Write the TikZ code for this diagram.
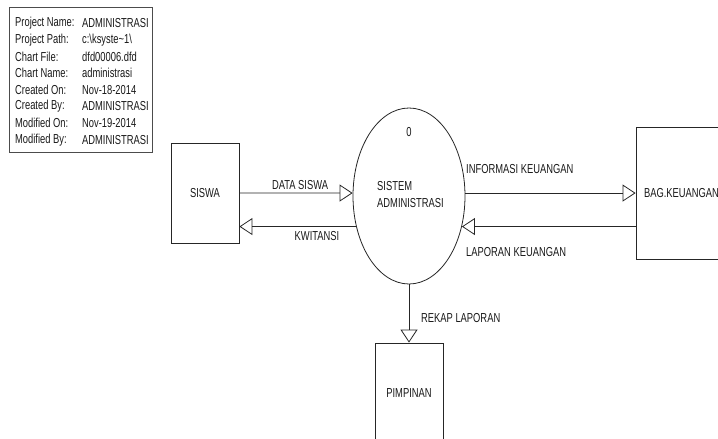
\documentclass[tikz,border=0pt]{standalone}
\usepackage{fontspec}
\setmainfont{Liberation Sans}[FakeStretch=0.72]
\usetikzlibrary{shapes.geometric,arrows.meta}
\begin{document}
\begin{tikzpicture}[x=1pt,y=-1pt,
  every node/.style={font=\fontsize{13}{15}\selectfont, text=black!90},
  txt/.style={inner sep=0pt},
  entity/.style={draw=black!85, line width=0.8pt, rectangle, inner sep=0pt},
  flow/.style={draw=black!85, line width=0.8pt, -{Triangle[open, length=13pt, width=17pt, line width=0.8pt]}},
  frame/.style={draw=black!70, line width=0.8pt, rectangle, inner sep=0pt}
]
\useasboundingbox (0,0) rectangle (718,439);
% info box
\node[frame, minimum width=143pt, minimum height=145pt] (info) at (80.5,79.5) {};
\foreach \k/\a/\b [count=\i from 0] in {pn/Project Name:/ADMINISTRASI, pp/Project Path:/{c:\textbackslash ksyste\string~1\textbackslash}, cf/Chart File:/dfd00006.dfd, cn/Chart Name:/administrasi, co/Created On:/Nov-18-2014, cb/Created By:/ADMINISTRASI, mo/Modified On:/Nov-19-2014, mb/Modified By:/ADMINISTRASI}{
  \node[txt, anchor=west] (\k a) at (15, 23+16.7*\i) {\a};
  \node[txt, anchor=west] (\k b) at (82, 23+16.7*\i) {\b};
}
% entities
\node[entity, minimum width=68pt, minimum height=100pt] (siswa) at (205,193) {SISWA};
\node[entity, minimum width=91pt, minimum height=132pt] (bag) at (681.5,193) {BAG.KEUANGAN};
\node[entity, minimum width=68pt, minimum height=100pt] (pimp) at (409,393) {PIMPINAN};
% process
\node[draw=black!85, line width=0.8pt, ellipse, minimum width=112pt, minimum height=176pt, inner sep=0pt] (proc) at (409,196) {};
\node[txt] (pnum) at (409,132) {0};
\node[txt, anchor=west] (pname1) at (377,186) {SISTEM};
\node[txt, anchor=west] (pname2) at (377,203) {ADMINISTRASI};
% flows
\draw[flow] (siswa.east) -- (proc.177);
\draw[flow] (proc.210.6) -- (proc.210.6 -| siswa.east);
\draw[flow] (proc.3) -- (proc.3 -| bag.west);
\draw[flow] (proc.-30.6 -| bag.west) -- (proc.-30.6);
\draw[flow] (proc.south) -- (pimp.north);
% labels
\node[txt] (l1) at (300,185) {DATA SISWA};
\node[txt] (l2) at (317,236) {KWITANSI};
\node[txt, anchor=west] (l3) at (466,169) {INFORMASI KEUANGAN};
\node[txt, anchor=west] (l4) at (466,252) {LAPORAN KEUANGAN};
\node[txt, anchor=west] (l5) at (421,318) {REKAP LAPORAN};
\end{tikzpicture}
\end{document}
